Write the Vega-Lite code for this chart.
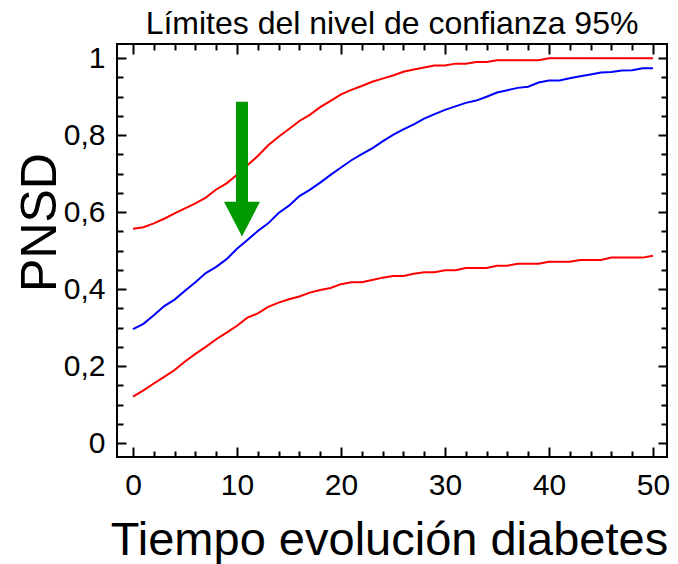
{
  "$schema": "https://vega.github.io/schema/vega-lite/v6.json",
  "width": 550,
  "height": 413,
  "autosize": "none",
  "padding": {"left": 117, "top": 44, "right": 11, "bottom": 107},
  "background": "white",
  "title": {"text": "Límites del nivel de confianza 95%", "fontSize": 32, "font": "Liberation Sans", "fontWeight": "normal", "color": "black", "anchor": "middle", "baseline": "alphabetic", "offset": -23},
  "config": {
    "view": {"stroke": "black", "strokeWidth": 2},
    "font": "Liberation Sans",
    "axis": {"grid": false, "domain": false, "labelColor": "black", "titleColor": "black", "tickColor": "black", "tickWidth": 2}
  },
  "datasets": {
    "curvas": [
      {"t": 0, "inf": 0.121, "pnsd": 0.296, "sup": 0.557},
      {"t": 1, "inf": 0.137, "pnsd": 0.310, "sup": 0.561},
      {"t": 2, "inf": 0.155, "pnsd": 0.332, "sup": 0.571},
      {"t": 3, "inf": 0.172, "pnsd": 0.356, "sup": 0.583},
      {"t": 4, "inf": 0.190, "pnsd": 0.373, "sup": 0.597},
      {"t": 5, "inf": 0.212, "pnsd": 0.396, "sup": 0.610},
      {"t": 6, "inf": 0.232, "pnsd": 0.418, "sup": 0.623},
      {"t": 7, "inf": 0.250, "pnsd": 0.442, "sup": 0.638},
      {"t": 8, "inf": 0.270, "pnsd": 0.458, "sup": 0.659},
      {"t": 9, "inf": 0.287, "pnsd": 0.478, "sup": 0.675},
      {"t": 10, "inf": 0.305, "pnsd": 0.505, "sup": 0.697},
      {"t": 11, "inf": 0.326, "pnsd": 0.528, "sup": 0.722},
      {"t": 12, "inf": 0.337, "pnsd": 0.551, "sup": 0.746},
      {"t": 13, "inf": 0.354, "pnsd": 0.571, "sup": 0.774},
      {"t": 14, "inf": 0.365, "pnsd": 0.598, "sup": 0.796},
      {"t": 15, "inf": 0.374, "pnsd": 0.617, "sup": 0.816},
      {"t": 16, "inf": 0.381, "pnsd": 0.642, "sup": 0.837},
      {"t": 17, "inf": 0.391, "pnsd": 0.658, "sup": 0.853},
      {"t": 18, "inf": 0.398, "pnsd": 0.677, "sup": 0.873},
      {"t": 19, "inf": 0.403, "pnsd": 0.697, "sup": 0.889},
      {"t": 20, "inf": 0.413, "pnsd": 0.716, "sup": 0.906},
      {"t": 21, "inf": 0.418, "pnsd": 0.735, "sup": 0.918},
      {"t": 22, "inf": 0.418, "pnsd": 0.751, "sup": 0.928},
      {"t": 23, "inf": 0.424, "pnsd": 0.766, "sup": 0.939},
      {"t": 24, "inf": 0.430, "pnsd": 0.784, "sup": 0.947},
      {"t": 25, "inf": 0.434, "pnsd": 0.801, "sup": 0.955},
      {"t": 26, "inf": 0.434, "pnsd": 0.815, "sup": 0.965},
      {"t": 27, "inf": 0.440, "pnsd": 0.828, "sup": 0.971},
      {"t": 28, "inf": 0.444, "pnsd": 0.843, "sup": 0.976},
      {"t": 29, "inf": 0.444, "pnsd": 0.855, "sup": 0.981},
      {"t": 30, "inf": 0.449, "pnsd": 0.866, "sup": 0.981},
      {"t": 31, "inf": 0.449, "pnsd": 0.875, "sup": 0.986},
      {"t": 32, "inf": 0.455, "pnsd": 0.884, "sup": 0.986},
      {"t": 33, "inf": 0.455, "pnsd": 0.890, "sup": 0.990},
      {"t": 34, "inf": 0.455, "pnsd": 0.900, "sup": 0.990},
      {"t": 35, "inf": 0.461, "pnsd": 0.911, "sup": 0.995},
      {"t": 36, "inf": 0.461, "pnsd": 0.917, "sup": 0.995},
      {"t": 37, "inf": 0.466, "pnsd": 0.923, "sup": 0.995},
      {"t": 38, "inf": 0.466, "pnsd": 0.926, "sup": 0.995},
      {"t": 39, "inf": 0.466, "pnsd": 0.937, "sup": 0.995},
      {"t": 40, "inf": 0.471, "pnsd": 0.942, "sup": 1},
      {"t": 41, "inf": 0.471, "pnsd": 0.942, "sup": 1},
      {"t": 42, "inf": 0.471, "pnsd": 0.948, "sup": 1},
      {"t": 43, "inf": 0.476, "pnsd": 0.953, "sup": 1},
      {"t": 44, "inf": 0.476, "pnsd": 0.958, "sup": 1},
      {"t": 45, "inf": 0.476, "pnsd": 0.963, "sup": 1},
      {"t": 46, "inf": 0.482, "pnsd": 0.964, "sup": 1},
      {"t": 47, "inf": 0.482, "pnsd": 0.968, "sup": 1},
      {"t": 48, "inf": 0.482, "pnsd": 0.969, "sup": 1},
      {"t": 49, "inf": 0.482, "pnsd": 0.974, "sup": 1},
      {"t": 50, "inf": 0.487, "pnsd": 0.974, "sup": 1}
    ],
    "flecha": [
      {"x": 10.48, "y_inicio": 0.887, "y_fin": 0.62, "y_punta": 0.582}
    ]
  },
  "resolve": {"axis": {"x": "independent", "y": "independent"}},
  "layer": [
    {
      "data": {"name": "curvas"},
      "transform": [{"fold": ["inf", "pnsd", "sup"], "as": ["serie", "valor"]}],
      "mark": {"type": "line", "strokeWidth": 2},
      "encoding": {
        "x": {
          "field": "t", "type": "quantitative",
          "scale": {"domain": [-1.54, 51.35], "nice": false, "zero": false},
          "axis": {
            "orient": "bottom", "values": [0, 10, 20, 30, 40, 50], "ticks": false, "tickSize": 0,
            "labelFontSize": 30, "labelPadding": 13, "labelFont": "Liberation Sans",
            "title": "Tiempo evolución diabetes", "titleFontSize": 47, "titleFontWeight": "normal", "titleFont": "Liberation Sans",
            "titleBaseline": "alphabetic", "titleAlign": "center", "titleX": 272, "titleY": 97
          }
        },
        "y": {
          "field": "valor", "type": "quantitative",
          "scale": {"domain": [-0.036, 1.037], "nice": false, "zero": false},
          "axis": {
            "orient": "left", "values": [0, 0.2, 0.4, 0.6, 0.8, 1], "ticks": false, "tickSize": 0,
            "labelExpr": "replace(format(datum.value, '~g'), '.', ',')",
            "labelFontSize": 30, "labelPadding": 12, "labelFont": "Liberation Sans",
            "title": "PNSD", "titleFontSize": 50, "titleFontWeight": "normal", "titleFont": "Liberation Sans",
            "titleAngle": -90, "titleBaseline": "alphabetic", "titleAlign": "center", "titleX": -62, "titleY": 178
          }
        },
        "color": {
          "field": "serie", "type": "nominal",
          "scale": {"domain": ["inf", "pnsd", "sup"], "range": ["#ff0000", "#0000ff", "#ff0000"]},
          "legend": null
        }
      }
    },
    {
      "data": {"name": "flecha"},
      "mark": {"type": "rule", "strokeWidth": 12, "color": "#009900", "strokeCap": "butt"},
      "encoding": {
        "x": {
          "field": "x", "type": "quantitative",
          "scale": {"domain": [-1.54, 51.35], "nice": false, "zero": false},
          "axis": {
            "orient": "bottom", "values": [0, 2, 4, 6, 8, 10, 12, 14, 16, 18, 20, 22, 24, 26, 28, 30, 32, 34, 36, 38, 40, 42, 44, 46, 48, 50],
            "labels": false, "title": null,
            "tickSize": {"condition": {"test": "datum.value % 10 === 0", "value": -10}, "value": -6}
          }
        },
        "y": {
          "field": "y_inicio", "type": "quantitative",
          "scale": {"domain": [-0.036, 1.037], "nice": false, "zero": false},
          "axis": {
            "orient": "left", "values": [0, 0.05, 0.1, 0.15, 0.2, 0.25, 0.3, 0.35, 0.4, 0.45, 0.5, 0.55, 0.6, 0.65, 0.7, 0.75, 0.8, 0.85, 0.9, 0.95, 1],
            "labels": false, "title": null,
            "tickSize": {"condition": {"test": "indexof([0, 0.2, 0.4, 0.6, 0.8, 1], datum.value) >= 0", "value": -9}, "value": -6}
          }
        },
        "y2": {"field": "y_fin"}
      }
    },
    {
      "data": {"name": "flecha"},
      "mark": {"type": "point", "shape": "M-1,-0.97L1,-0.97L0,0.97Z", "size": 1296, "filled": true, "color": "#009900", "opacity": 1, "strokeWidth": 0},
      "encoding": {
        "x": {
          "field": "x", "type": "quantitative",
          "scale": {"domain": [-1.54, 51.35], "nice": false, "zero": false},
          "axis": {
            "orient": "top", "values": [0, 2, 4, 6, 8, 10, 12, 14, 16, 18, 20, 22, 24, 26, 28, 30, 32, 34, 36, 38, 40, 42, 44, 46, 48, 50],
            "labels": false, "title": null,
            "tickSize": {"condition": {"test": "datum.value % 10 === 0", "value": -10}, "value": -6}
          }
        },
        "y": {
          "field": "y_punta", "type": "quantitative",
          "scale": {"domain": [-0.036, 1.037], "nice": false, "zero": false},
          "axis": {
            "orient": "right", "values": [0, 0.05, 0.1, 0.15, 0.2, 0.25, 0.3, 0.35, 0.4, 0.45, 0.5, 0.55, 0.6, 0.65, 0.7, 0.75, 0.8, 0.85, 0.9, 0.95, 1],
            "labels": false, "title": null,
            "tickSize": {"condition": {"test": "indexof([0, 0.2, 0.4, 0.6, 0.8, 1], datum.value) >= 0", "value": -9}, "value": -6}
          }
        }
      }
    }
  ]
}
